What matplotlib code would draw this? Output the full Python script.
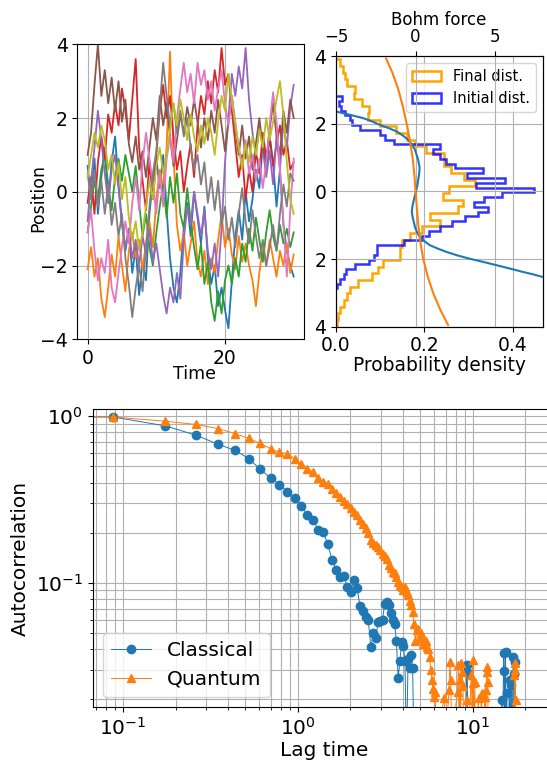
import matplotlib
matplotlib.use("Agg")
import matplotlib.pyplot as plt
from matplotlib.patches import Patch
import numpy as np

# ---- top left: trajectories (sampled every 0.5 time units) ----
time = np.linspace(0, 30, 61)
traj_blue = [0.7, -0.2, 0.9, -0.6, 0.4, 1.2, -0.3, 0.8, 1.5, 0.2, -0.8, -1.6, -1.0, -2.2, -1.5, -2.8, -1.9, -2.4, -0.6, 0.3,
             0.9, 0.1, 1.0, -0.5, -1.8, -2.6, -3.0, -2.2, -1.0, -0.3, -1.2, 0.0, -0.7, -1.4, -0.4, -1.8, -2.5, -2.0, -3.1, -2.6,
             -3.2, -3.7, -2.4, -1.2, -0.5, -1.3, 0.0, -0.8, -0.2, 0.6, 0.1, 1.3, 0.5, 1.5, 0.8, -0.4, 0.6, -0.9, -1.6, -2.0, -2.3]
traj_orange = [-2.1, -1.5, -2.3, -1.8, -2.9, -3.4, -2.6, -1.7, -2.3, -1.2, -2.0, -2.7, -1.6, -1.1, -1.8, -1.3, -2.1, -1.4, -0.8, -1.5,
               -0.2, 0.6, 0.1, 1.2, 3.8, 1.0, -0.9, -1.6, -1.1, -2.0, -1.4, -0.8, -1.9, -2.3, -1.6, -2.5, -1.8, -2.2, -1.3, -0.6,
               -1.5, -1.0, -1.7, -2.1, -1.2, -1.9, -1.4, -2.0, -2.4, -3.1, -2.2, -1.5, -2.0, -1.3, -1.8, -2.3, -1.6, -2.0, -1.4, -2.2, -1.7]
traj_green = [-1.1, -0.4, 0.3, -0.2, 0.6, 1.0, 0.2, -0.5, 0.4, 0.9, 0.3, 1.0, 0.5, 0.0, 0.7, -0.3, -1.2, -0.6, -1.5, -2.0,
              -1.1, -0.4, 0.2, -0.7, 0.4, -0.3, 0.5, -0.6, -1.0, 0.1, -0.8, -1.5, -2.1, -1.4, -2.5, -1.9, -3.0, -3.5, -2.7, -3.3,
              -2.4, -2.0, -2.5, -1.8, -2.3, -1.4, -1.9, -1.0, -1.6, -0.7, -1.3, -1.9, -1.1, -0.5, -1.2, -1.6, -0.9, -1.4, -1.0, -1.5, -1.1]
traj_red = [-0.3, 0.4, -0.6, 0.8, 1.5, 0.9, 2.1, 1.6, 2.4, 1.8, 2.8, 2.2, 1.4, 2.5, 3.6, 1.2, 0.3, -0.5, 0.8, -0.2,
            1.0, 2.2, 2.9, 2.0, 2.6, 1.5, 0.6, 1.1, 0.0, 0.7, 1.3, 0.4, 1.8, 2.6, 2.1, 3.0, 2.4, 3.3, 2.7, 3.9,
            2.9, 3.2, 2.2, 1.3, 0.4, 1.0, -0.2, 0.6, 0.0, 1.1, 0.5, 1.6, 0.9, 1.5, 0.7, 1.3, 1.8, 1.0, 1.4, 0.6, 0.8]
traj_purple = [-0.8, 0.3, 1.2, 2.2, 1.4, 0.5, -0.3, 0.6, 1.0, 0.1, -0.9, -1.5, -1.0, -1.8, -1.3, -2.0, -1.2, -1.7, -1.0, -1.9,
               -1.4, -2.1, -2.8, -3.3, -2.6, -3.0, -2.2, -2.9, -1.3, -0.4, -0.9, 0.0, -0.6, -1.2, -0.5, -1.6, -2.1, -1.4, -2.3, -1.0,
               0.8, 2.0, 3.2, 2.6, 3.4, 2.8, 3.9, 2.5, 1.6, 1.0, 1.8, 1.2, 0.4, 1.1, 0.2, 1.5, 0.6, 1.9, 1.2, 2.3, 2.9]
traj_brown = [1.0, 1.6, 2.9, 4.0, 2.6, 3.3, 2.4, 3.1, 2.2, 3.0, 1.9, 2.5, 1.3, 0.8, 1.5, 0.6, 1.1, 0.4, 1.2, 2.0,
              1.4, 2.6, 1.8, 2.4, 1.5, 0.7, 1.4, 2.1, 1.6, 2.3, 1.8, 2.5, 1.9, 1.2, 2.0, 1.4, 2.2, 1.6, 2.5, 1.8,
              1.1, 1.9, 2.6, 1.7, 1.0, 1.8, 0.9, 1.5, 0.6, 1.3, 2.0, 1.2, 0.8, 1.7, 2.4, 1.5, 1.0, 2.2, 1.6, 2.5, 2.0]
traj_pink = [-1.1, -0.5, -1.6, -2.4, -1.8, -2.2, -1.3, -2.6, -3.0, -2.2, -1.5, -0.8, -1.4, -0.3, 0.4, -0.5, 0.8, 1.6, 0.9, 0.2,
             -0.6, 0.5, -0.4, 0.9, 1.5, 0.8, 2.0, 2.8, 3.5, 2.7, 3.2, 2.4, 3.5, 2.9, 3.3, 2.5, 3.0, 2.2, 2.8, 3.3,
             2.4, 1.8, 2.6, 1.9, 1.2, 0.7, 1.4, 0.5, 1.0, 0.3, 0.9, 0.1, 0.8, 1.8, 2.7, 1.9, 0.6, -0.8, -2.3, -0.5, 0.9]
traj_gray = [0.5, -0.2, 0.6, -0.4, 0.3, -0.6, 0.2, -0.9, -0.3, -1.2, -0.6, -1.8, -2.5, -3.4, -2.6, -2.0, -2.7, -1.5, -0.4, 0.5,
             1.1, 2.3, 3.5, 2.6, 1.8, 2.4, 1.6, 2.2, 1.5, 2.0, 1.2, 0.6, 1.0, 0.2, 0.8, -0.3, 0.4, -0.5, 0.3, -0.9,
             -0.4, -1.3, -0.7, -1.5, -0.6, 0.1, -0.8, -1.4, -0.5, -1.2, -1.8, -1.3, -2.0, -1.5, -0.9, -1.6, -0.6, 0.2, -0.4, 0.5, 0.3]
traj_olive = [0.4, 1.0, 1.6, 1.2, 1.8, 1.4, 0.6, 1.0, 0.2, 0.8, -0.2, 0.4, -0.7, -1.3, -0.8, -1.6, -1.1, -0.4, 0.3, -0.2,
              0.7, 1.2, 0.5, 1.0, 1.7, 2.4, 1.8, 2.5, 2.0, 1.4, 2.1, 1.5, 1.1, 1.8, 1.3, 2.0, 1.6, 1.0, 1.9, 2.6,
              2.2, 3.2, 2.5, 1.8, 1.2, 0.6, 1.3, 0.8, 1.5, 1.0, 1.7, 1.2, 2.0, 1.4, 1.9, 2.5, 3.0, 2.1, 0.8, -0.2, -0.6]
trajectories = [traj_blue, traj_orange, traj_green, traj_red, traj_purple,
                traj_brown, traj_pink, traj_gray, traj_olive]

# ---- top right: histograms (bottom bin first) and force curves ----
final_edges = np.linspace(-4.0, 3.9, 41)
final_density = [0.002, 0.004, 0.008, 0.017, 0.024, 0.032, 0.050, 0.081, 0.096, 0.107,
                 0.145, 0.145, 0.149, 0.168, 0.195, 0.235, 0.213, 0.277, 0.288, 0.243,
                 0.255, 0.315, 0.290, 0.260, 0.245, 0.244, 0.205, 0.180, 0.160, 0.135,
                 0.100, 0.073, 0.074, 0.059, 0.040, 0.043, 0.024, 0.020, 0.015, 0.009]
initial_edges = np.linspace(-2.87, 2.81, 41)
initial_density = [0.003, 0.009, 0.017, 0.023, 0.043, 0.075, 0.085, 0.092, 0.092, 0.154,
                   0.194, 0.210, 0.235, 0.262, 0.292, 0.322, 0.345, 0.312, 0.335, 0.375,
                   0.448, 0.318, 0.383, 0.296, 0.334, 0.270, 0.250, 0.235, 0.220, 0.236,
                   0.132, 0.112, 0.100, 0.054, 0.036, 0.032, 0.020, 0.011, 0.006, 0.013]

bohm_y = [2.8, 2.6, 2.45, 2.36, 2.26, 2.16, 2.06, 1.96, 1.87, 1.77, 1.65, 1.52, 1.38, 1.23, 0.93, 0.7,
          0.54, 0.15, 0.0, -0.41, -0.6, -0.76, -1.05, -1.2, -1.35, -1.47, -1.59, -1.69, -1.79, -1.89,
          -1.99, -2.08, -2.18, -2.28, -2.38, -2.45, -2.53, -2.7, -2.87]
bohm_f = [-16, -9.5, -6.5, -5.0, -4.1, -3.27, -2.7, -2.23, -1.7, -1.19, -0.8, -0.46, -0.22, -0.04, 0.16, 0.25,
          0.23, 0.1, 0.02, -0.19, -0.24, -0.19, -0.04, 0.08, 0.27, 0.55, 0.89, 1.38, 1.94, 2.6,
          3.39, 4.2, 5.06, 5.9, 6.73, 7.35, 7.98, 10, 14]
force_y = [3.93, 3.5, 3.0, 2.5, 2.0, 1.5, 1.0, 0.5, 0.0, -0.5, -1.0, -1.5, -2.0, -2.5, -3.0, -3.5, -3.95]
force_f = [-1.86, -1.45, -1.08, -0.8, -0.56, -0.36, -0.19, -0.08, 0.0, 0.08, 0.17, 0.3, 0.48, 0.75, 1.1, 1.55, 2.04]

# ---- bottom: autocorrelation vs lag index ----
dt = 0.0872
classical_k = list(range(0, 54)) + [54, 62, 75, 90, 105, 106, 107, 108, 125, 145, 167, 168, 169,
                                    173, 174, 175, 177, 178, 180, 181, 187, 188, 191, 192, 196,
                                    197, 198, 200, 201, 206]
classical_acf = [1.0, 0.99, 0.875, 0.769, 0.679, 0.625, 0.557, 0.479, 0.427, 0.389,
                 0.352, 0.324, 0.291, 0.255, 0.238, 0.209, 0.202, 0.171, 0.137, 0.12,
                 0.109, 0.11, 0.095, 0.088, 0.104, 0.093, 0.073, 0.068, 0.0625, 0.06,
                 0.041, 0.05, 0.047, 0.058, 0.059, 0.06, 0.075, 0.077, 0.074, 0.066,
                 0.06, 0.057, 0.045, 0.027, 0.034, 0.044, 0.042, 0.034, 0.010, 0.035,
                 0.031, 0.037, 0.031, 0.010,
                 0.006, 0.012, 0.008, 0.011, 0.010, 0.032, 0.029, 0.008, 0.012, 0.009, 0.010, 0.0198, 0.009,
                 0.0377, 0.0296, 0.010, 0.0385, 0.011, 0.0218, 0.009, 0.026, 0.012, 0.0245, 0.010, 0.0357,
                 0.0285, 0.009, 0.0336, 0.011, 0.010]
quantum_k = list(range(0, 72)) + [79, 80, 84, 85, 86, 87, 94, 95, 96, 97, 98, 99, 100, 101, 102,
                                  106, 107, 113, 114, 115, 116, 117, 118, 119, 124, 125, 129, 130,
                                  135, 136, 137, 138, 139, 140, 141, 160, 180, 198, 199, 200, 201,
                                  202, 203]
quantum_acf = [1.0, 0.99, 0.933, 0.892, 0.843, 0.787, 0.735, 0.686, 0.64, 0.606,
               0.597, 0.557, 0.515, 0.485, 0.463, 0.423, 0.405, 0.39, 0.368, 0.347,
               0.328, 0.31, 0.296, 0.283, 0.267, 0.255, 0.24, 0.227, 0.212, 0.198,
               0.181, 0.173, 0.169, 0.164, 0.157, 0.15, 0.145, 0.139, 0.128, 0.122,
               0.116, 0.114, 0.109, 0.101, 0.097, 0.095, 0.09, 0.094, 0.088, 0.084,
               0.078, 0.074, 0.067, 0.057, 0.045, 0.052, 0.053, 0.047, 0.05, 0.046,
               0.043, 0.044, 0.045, 0.041, 0.040, 0.036, 0.030, 0.026, 0.023, 0.0207,
               0.022, 0.012,
               0.0203, 0.010, 0.0228, 0.0336, 0.026, 0.012, 0.022, 0.032, 0.012, 0.026, 0.015, 0.033,
               0.029, 0.024, 0.010, 0.0198, 0.010, 0.028, 0.010, 0.0343, 0.025, 0.010, 0.0256, 0.010,
               0.0203, 0.010, 0.0218, 0.010, 0.0207, 0.012, 0.0228, 0.0312, 0.029, 0.0256, 0.010,
               0.012, 0.010, 0.012, 0.028, 0.033, 0.030, 0.0198, 0.010]

W, H = 547, 760
fig = plt.figure(figsize=(W / 100, H / 100), dpi=100)


def rect(left, top, right, bottom):
    return [left / W, 1 - bottom / H, (right - left) / W, (bottom - top) / H]


# top-left
ax1 = fig.add_axes(rect(77.3, 44.3, 304, 339.3))
for tr in trajectories:
    ax1.plot(time, tr, lw=1.3)
ax1.set_ylim(-4, 4)
ax1.set_xticks([0, 20])
ax1.set_yticks([-4, -2, 0, 2, 4])
ax1.tick_params(labelsize=13.5)
ax1.grid(True)
ax1.set_xlabel('Time', fontsize=12.5)
ax1.set_ylabel('Position', fontsize=12.5)
ax1.xaxis.set_label_coords(0.519, -0.087)
ax1.yaxis.set_label_coords(-0.134, 0.479)

# top-right
ax2 = fig.add_axes(rect(336, 56, 543, 326.7))
ax2.stairs(final_density, final_edges, orientation='horizontal',
           color='orange', lw=1.8)
ax2.stairs(initial_density, initial_edges, orientation='horizontal',
           color='blue', lw=1.8, alpha=0.8)
ax2.set_xlim(0, 0.469)
ax2.set_ylim(-4, 4)
ax2.set_xticks([0.0, 0.2, 0.4])
ax2.set_yticks([-4, -2, 0, 2, 4])
ax2.set_yticklabels(['4', '2', '0', '2', '4'])
ax2.tick_params(labelsize=13.5)
ax2.grid(True)
ax2.set_xlabel('Probability density', fontsize=13.4)
ax2.xaxis.set_label_coords(0.502, -0.108)
hist_handles = [Patch(facecolor='none', edgecolor='orange', lw=1.8, label='Final dist.'),
                Patch(facecolor='none', edgecolor='blue', lw=1.8, alpha=0.8, label='Initial dist.')]
ax2.legend(handles=hist_handles, loc='upper right', fontsize=10.5)

ax2t = ax2.twiny()
ax2t.plot(bohm_f, bohm_y, color='C0')
ax2t.plot(force_f, force_y, color='C1')
ax2t.set_xlim(-5, 8)
ax2t.set_xticks([-5, 0, 5])
ax2t.tick_params(labelsize=12)
ax2t.grid(True)
ax2t.set_xlabel('Bohm force', fontsize=12)
ax2t.xaxis.set_label_coords(0.496, 1.115)

# bottom
ax3 = fig.add_axes(rect(92.7, 409.3, 556, 707))
ax3.plot(dt * np.array(classical_k), classical_acf, 'o-', color='C0', lw=0.7, ms=6, label='Classical')
ax3.plot(dt * np.array(quantum_k), quantum_acf, '^-', color='C1', lw=0.7, ms=6, label='Quantum')
ax3.set_xscale('log')
ax3.set_yscale('log')
ax3.set_xlim(0.067, 30)
ax3.set_ylim(0.018, 1.1)
ax3.grid(True, which='both')
ax3.tick_params(labelsize=14.5)
ax3.set_xlabel('Lag time', fontsize=14.5, labelpad=2)
ax3.set_ylabel('Autocorrelation', fontsize=14.5)
ax3.legend(loc='lower left', fontsize=14.5)

fig.savefig('out.png', dpi=100)
